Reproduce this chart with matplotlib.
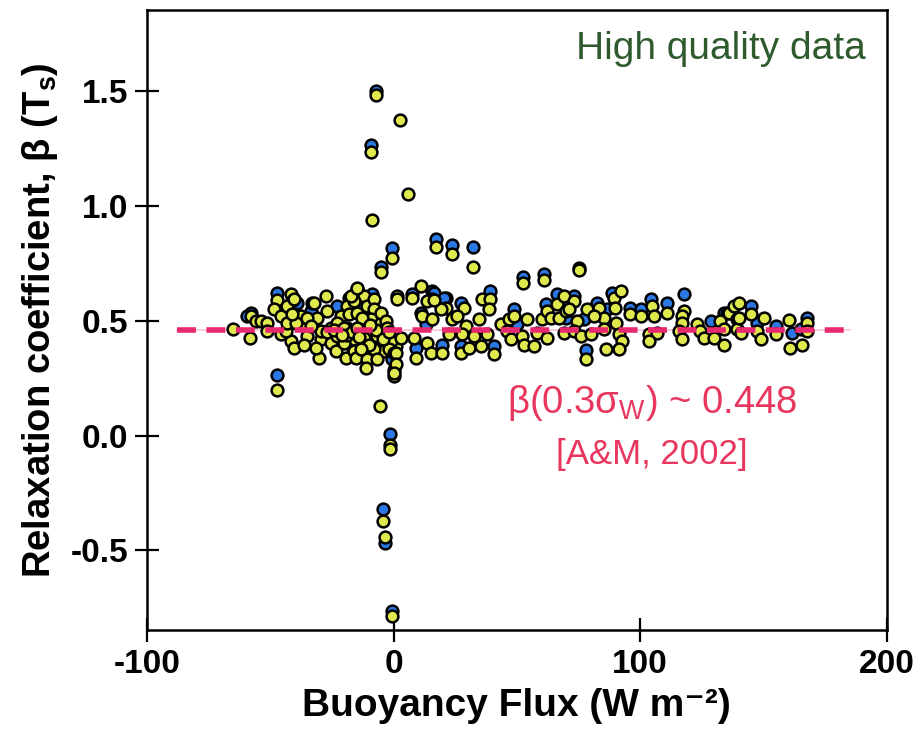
import matplotlib
matplotlib.use("Agg")
import matplotlib.pyplot as plt

# yellow points (top layer)
yellow_x = [
    -7.0, 2.7, -9.0, 5.8, -8.8, -0.8, -5.3, 17.0, 23.5, 32.2, 52.6, 61.0, 75.2, 77.9,
    -5.6, -1.5, -1.5, -4.2, -3.7, -0.8, -47.5,
    -65.0, -58.3, -58.0, -56.0, -54.0, -51.2, -51.2, -47.5, -48.6, -45.8, -41.8, -41.1,
    -43.1, -45.8, -41.8, -40.4, -37.7, -36.4, -35.0, -36.4, -33.0, -31.0, -29.6, -30.3,
    -27.6, -26.9, -25.6, -25.6, -21.5, -22.8, -23.5, -22.8, -19.5, -18.8, -18.1, -18.8,
    -17.4, -16.1, -15.4, -14.7, -14.7, -12.0, -16.1, -10.7, -8.0, -8.0, -9.3, -10.7,
    -13.4, -12.0, -10.7, -10.7, -11.4, -6.6, -5.3, -5.3, -3.9, 0.1, 0.1, 1.5, 0.8,
    -14.7, -12.7, -3.2, -2.6, -1.2, -1.9, 0.1, -8.0, -6.6, -10.0, -13.4, -16.1, -20.2,
    -31.6, -43.8, -43.1, -39.8, -41.1, -35.0, -29.6, -33.7, -17.4, -40.4, -32.3, -14.7,
    -27.0, -24.0, -20.0, -19.0, -17.0, -15.0, -14.0, -21.0, -7.0, -4.5, -2.0, -9.5,
    1.5, 7.6, 11.0, 15.7, 13.7, 21.1, 19.1, 11.6, 15.7, 2.8, 8.2, 8.9, 13.7, 15.0, 19.8,
    22.4, 23.8, 28.5, 25.8, 29.2, 27.9, 27.2, 30.5, 32.6, 34.6, 36.0, 39.1, 38.7, 38.0,
    35.3, 40.7, 43.4, 46.8, 46.1, 47.5, 48.8, 52.2, 54.2, 52.9, 56.9, 58.3, 60.3, 62.3,
    63.7, 62.3, 66.4, 67.1, 69.8, 69.1, 0.8, 0.8, 0.1, 16.4,
    69.1, 73.1, 71.1, 74.4, 78.6, 83.3, 89.4, 92.1, 90.0, 85.3, 81.3, 73.1, 75.9, 79.9,
    85.3, 90.1, 91.4, 92.8, 91.4, 86.0, 96.1, 100.2, 104.9, 111.0, 117.8, 117.1, 117.1,
    105.6, 103.6, 107.0, 103.6, 115.7, 117.1, 123.2, 124.5, 125.9, 129.9, 132.6, 134.0,
    136.0, 138.0, 139.4, 139.4,
    140.1, 144.8, 140.1, 134.0, 140.8, 147.5, 150.2, 148.9, 155.0, 160.4, 161.0, 165.8,
    167.8, 167.8,
]
yellow_y = [
    1.485, 1.374, 1.237, 1.052, 0.938, 0.776, 0.715, 0.824, 0.790, 0.735, 0.667, 0.680, 0.720, 0.332,
    0.128, -0.040, -0.057, -0.371, -0.440, -0.786, 0.200,
    0.463, 0.427, 0.520, 0.499, 0.499, 0.492, 0.455, 0.591, 0.550, 0.521, 0.616, 0.586,
    0.565, 0.441, 0.412, 0.383, 0.521, 0.477, 0.434, 0.397, 0.580, 0.514, 0.419, 0.339,
    0.608, 0.543, 0.470, 0.405, 0.521, 0.492, 0.368, 0.434, 0.339, 0.565, 0.528, 0.470,
    0.397, 0.368, 0.339, 0.638, 0.601, 0.608, 0.586, 0.565, 0.594, 0.550, 0.507, 0.455,
    0.477, 0.427, 0.376, 0.332, 0.296, 0.434, 0.492, 0.536, 0.368, 0.288, 0.259, 0.608, 0.390,
    0.536, 0.514, 0.499, 0.470, 0.412, 0.376, 0.361, 0.376, 0.332, 0.397, 0.376, 0.419, 0.405,
    0.383, 0.455, 0.492, 0.492, 0.528, 0.514, 0.455, 0.477, 0.608, 0.594, 0.580, 0.645,
    0.450, 0.460, 0.470, 0.440, 0.450, 0.470, 0.430, 0.440, 0.460, 0.420, 0.450, 0.480,
    0.594, 0.601, 0.652, 0.594, 0.586, 0.558, 0.550, 0.521, 0.507, 0.427, 0.427, 0.339, 0.405, 0.361, 0.361,
    0.441, 0.507, 0.558, 0.521, 0.477, 0.441, 0.361, 0.383, 0.434, 0.507, 0.594, 0.594, 0.550, 0.441,
    0.390, 0.354, 0.485, 0.507, 0.455, 0.419, 0.521, 0.434, 0.507, 0.397, 0.390, 0.449, 0.507, 0.543,
    0.514, 0.427, 0.572, 0.514, 0.543, 0.449, 0.361, 0.310, 0.274, 0.591,
    0.608, 0.586, 0.550, 0.499, 0.550, 0.558, 0.601, 0.630, 0.558, 0.514, 0.521, 0.455, 0.434, 0.441,
    0.463, 0.492, 0.441, 0.412, 0.376, 0.376, 0.528, 0.521, 0.565, 0.536, 0.543, 0.521, 0.492,
    0.521, 0.441, 0.449, 0.412, 0.455, 0.419, 0.485, 0.455, 0.427, 0.427, 0.499, 0.397,
    0.536, 0.565, 0.507, 0.463,
    0.580, 0.528, 0.514, 0.463, 0.449, 0.455, 0.514, 0.419, 0.445, 0.502, 0.383, 0.397,
    0.492, 0.455,
]

# blue points (drawn underneath)
blue_x = [
    -7.0, -9.0, -0.8, -5.3, 17.0, 23.5, 32.2, 52.6, 61.0, 75.2, 77.9, 117.8, -1.5, -4.2,
    -3.7, -0.8, -47.5,
    -47.5, -58.0, -39.1, -33.7, -22.8, -8.6, -6.0, -2.6, -0.5, -59.4, -18.0, -12.5,
    7.6, 15.7, 21.1, 11.0, 13.0, 8.9, 19.8, 27.2, 27.2, 39.1, 40.7, 48.8, 50.2, 61.7,
    66.4, 69.1, 0.1, 16.4, 20.4,
    73.1, 69.8, 82.6, 88.7, 86.7, 77.2, 96.1, 100.2, 104.3, 111.0, 128.6, 134.0,
    135.4, 144.8, 147.5, 155.0, 161.7, 165.1, 167.8,
]
blue_y = [
    1.503, 1.266, 0.817, 0.735, 0.856, 0.831, 0.822, 0.693, 0.703, 0.732, 0.372, 0.616, 0.007, -0.320,
    -0.468, -0.763, 0.266,
    0.623, 0.536, 0.580, 0.543, 0.565, 0.616, 0.521, 0.441, 0.332, 0.521, 0.600, 0.560,
    0.616, 0.630, 0.601, 0.536, 0.485, 0.383, 0.397, 0.580, 0.390, 0.630, 0.390, 0.550, 0.485, 0.572,
    0.616, 0.594, 0.390, 0.623, 0.601,
    0.608, 0.514, 0.580, 0.623, 0.550, 0.507, 0.558, 0.550, 0.594, 0.580, 0.499, 0.536,
    0.536, 0.565, 0.492, 0.477, 0.449, 0.463, 0.514,
]

beta_ref = 0.46
ref_x = [-88, 185]

plt.rcParams['font.family'] = ['Liberation Sans', 'DejaVu Sans']
plt.rcParams['axes.unicode_minus'] = False

fig = plt.figure(figsize=(9.14, 7.35), dpi=100)
ax = fig.add_axes([0.161, 0.143, 0.809, 0.843])

# reference line (faint connector + dashes)
ax.plot(ref_x, [beta_ref, beta_ref], color='#f6c3d5', lw=1.2, zorder=1)
ax.plot(ref_x, [beta_ref, beta_ref], color='#e8286f', lw=4.0,
        linestyle=(0, (3.4, 1.9)), zorder=4)

ax.scatter(blue_x, blue_y, s=72, color='#2b78e4', edgecolors='black', linewidths=1.8, zorder=2)
ax.scatter(yellow_x, yellow_y, s=72, color='#dfe84c', edgecolors='black', linewidths=1.8, zorder=3)

ax.set_xlim(-100, 200)
ax.set_ylim(-0.847, 1.854)
ax.set_xticks([-100, 0, 100, 200])
ax.set_yticks([-0.5, 0.0, 0.5, 1.0, 1.5])
ax.set_yticklabels(['-0.5', '0.0', '0.5', '1.0', '1.5'])
ax.set_xticklabels(['-100', '0', '100', '200'])

for sp in ax.spines.values():
    sp.set_linewidth(1.8)
ax.tick_params(direction='inout', length=17, width=1.6, labelsize=24, pad=5)
for lab in ax.get_xticklabels() + ax.get_yticklabels():
    lab.set_fontweight('bold')

ax.set_xlabel('Buoyancy Flux (W m\u207b\u00b2)', fontsize=28, fontweight='bold', labelpad=6)
ax.set_ylabel(r'Relaxation coefficient, β (T$_{\mathregular{s}}$)', fontsize=27.5, fontweight='bold', labelpad=8)

ax.text(191.5, 1.686, 'High quality data', color='#2e5a2e', fontsize=28, ha='right', va='center')
ax.text(105, 0.144, r'β(0.3σ$_{\mathregular{W}}$) ~ 0.448', color='#e8365f', fontsize=27.5,
        ha='center', va='center')
ax.text(104.7, -0.083, '[A&M, 2002]', color='#e8365f', fontsize=25, ha='center', va='center')

fig.savefig('out.png', dpi=100)
